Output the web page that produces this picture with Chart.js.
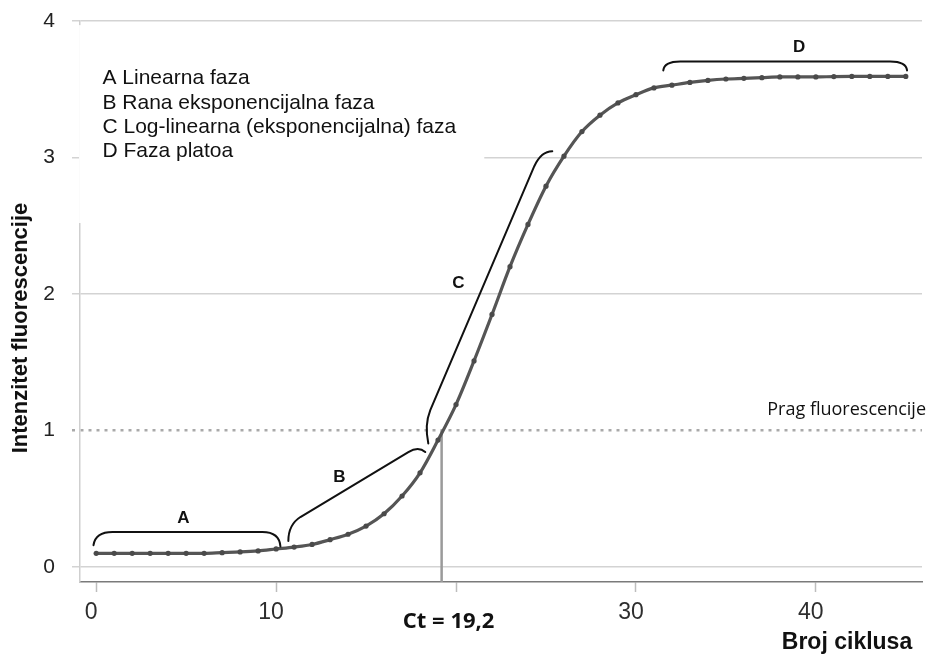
<!DOCTYPE html>
<html>
<head>
<meta charset="utf-8">
<title>qPCR krivulja</title>
<script src="https://cdn.jsdelivr.net/npm/chart.js@4.4.1/dist/chart.umd.min.js"></script>
<style>
  html, body { margin: 0; padding: 0; background: #fff; }
  #wrap { width: 927px; height: 655px; position: relative; }
</style>
</head>
<body>
<div id="wrap"><canvas id="qpcrChart"></canvas></div>
<script>
/* ---- Data ---- */
const cycles = [
  0, 1, 2, 3, 4, 5, 6, 7, 8, 9,
  10, 11, 12, 13, 14, 15, 16, 17, 18, 19,
  20, 21, 22, 23, 24, 25, 26, 27, 28, 29,
  30, 31, 32, 33, 34, 35, 36, 37, 38, 39,
  40, 41, 42, 43, 44, 45
];
const fluorescence = [
  0.10, 0.10, 0.10, 0.10, 0.10, 0.10, 0.10, 0.105, 0.11, 0.118,
  0.132, 0.146, 0.165, 0.20, 0.24, 0.30, 0.39, 0.52, 0.69, 0.93,
  1.19, 1.51, 1.85, 2.20, 2.51, 2.79, 3.01, 3.19, 3.31, 3.40,
  3.46, 3.51, 3.53, 3.55, 3.565, 3.575, 3.58, 3.585, 3.59, 3.59,
  3.59, 3.593, 3.594, 3.594, 3.594, 3.594
];
const yTicks = [0, 1, 2, 3, 4];
const xTicks = [0, 10, 20, 30, 40];
const hiddenXTick = 20;            // covered by the Ct label in the original
const thresholdValue = 1;
const ctValue = 19.2;
const ctLabel = "Ct = 19,2";
const thresholdLabel = "Prag fluorescencije";
const phaseLegend = [
  "A Linearna faza",
  "B Rana eksponencijalna faza",
  "C Log-linearna (eksponencijalna) faza",
  "D Faza platoa"
];
const phaseNames = ["A", "B", "C", "D"];
const xTitle = "Broj ciklusa";
const yTitle = "Intenzitet fluorescencije";


/* ---- Axis range ---- */
const X_MIN = -0.9, X_MAX = 45.9;
const Y_MIN = -0.11, Y_MAX = 4;

const SANS = "'Liberation Sans', Arial, sans-serif";
const HUMAN = "'Open Sans', 'Noto Sans', sans-serif";


/* ---- Annotation geometry (data units) ---- */
// each bracket: start, ctrl, corner end, straight end, ctrl, end
const bracketShapes = {
  A: [[-0.15, 0.16], [-0.04, 0.256], [0.91, 0.256], [9.24, 0.256], [10.18, 0.256], [10.24, 0.15]],
  B: [[10.68, 0.19], [10.68, 0.31], [11.35, 0.366], [17.35, 0.842], [17.91, 0.886], [18.29, 0.842]],
  C: [[18.46, 0.905], [18.24, 1.04], [18.57, 1.149], [24.35, 2.936], [24.74, 3.045], [25.35, 3.045]],
  D: [[31.52, 3.638], [31.57, 3.704], [32.46, 3.704], [44.13, 3.704], [45.02, 3.704], [45.07, 3.638]]
};
const bracketLabelPos = {
  A: [4.85, 0.36], B: [13.52, 0.66], C: [20.13, 2.08], D: [39.07, 3.81]
};
// white patch that hides grid behind the phase legend
const legendPatch = { x0: -0.95, x1: 21.57, y0: 2.52, y1: 3.97 };


/* ---- Plugin: patch, brackets, texts ---- */
const annotations = {
  id: "qpcrAnnotations",
  beforeDatasetsDraw(chart) {
    const { ctx, scales: { x, y } } = chart;
    const px0 = x.getPixelForValue(legendPatch.x0);
    const px1 = x.getPixelForValue(legendPatch.x1);
    const py0 = y.getPixelForValue(legendPatch.y1);
    const py1 = y.getPixelForValue(legendPatch.y0);
    ctx.save();
    ctx.fillStyle = "#fff";
    ctx.fillRect(px0, py0, px1 - px0, py1 - py0);
    ctx.restore();
  },
  afterDatasetsDraw(chart) {
    const { ctx, chartArea, scales: { x, y } } = chart;
    const P = ([vx, vy]) => [x.getPixelForValue(vx), y.getPixelForValue(vy)];

    ctx.save();

    // brackets
    ctx.strokeStyle = "#111";
    ctx.lineWidth = 2;
    ctx.lineCap = "round";
    phaseNames.forEach(n => {
      const p = bracketShapes[n].map(P);
      ctx.beginPath();
      ctx.moveTo(p[0][0], p[0][1]);
      ctx.quadraticCurveTo(p[1][0], p[1][1], p[2][0], p[2][1]);
      ctx.lineTo(p[3][0], p[3][1]);
      ctx.quadraticCurveTo(p[4][0], p[4][1], p[5][0], p[5][1]);
      ctx.stroke();
    });

    // bracket letters
    ctx.fillStyle = "#111";
    ctx.font = `bold 17px ${SANS}`;
    ctx.textAlign = "center";
    ctx.textBaseline = "middle";
    phaseNames.forEach(n => {
      const [lx, ly] = P(bracketLabelPos[n]);
      ctx.fillText(n, lx, ly);
    });

    // phase legend
    ctx.font = `21px ${SANS}`;
    ctx.textAlign = "left";
    const lx = x.getPixelForValue(0.35);
    const ly = y.getPixelForValue(3.58);
    phaseLegend.forEach((t, i) => ctx.fillText(t, lx, ly + i * 24.4));

    // threshold label
    ctx.font = `18px ${HUMAN}`;
    ctx.textAlign = "right";
    ctx.fillText(thresholdLabel, chartArea.right + 4, y.getPixelForValue(thresholdValue) - 21);

    // Ct label
    ctx.font = `bold 22px ${HUMAN}`;
    ctx.textAlign = "center";
    ctx.fillText(ctLabel, x.getPixelForValue(ctValue) + 7, chartArea.bottom + 40);

    // axis titles
    ctx.font = `bold 23px ${SANS}`;
    ctx.fillText(xTitle, 847, chartArea.bottom + 61);

    ctx.font = `bold 22px ${SANS}`;
    ctx.translate(21, 328);
    ctx.rotate(-Math.PI / 2);
    ctx.fillText(yTitle, 0, 0);

    ctx.restore();
  }
};


/* ---- Chart ---- */
function initQpcrChart() {
  const el = document.getElementById("qpcrChart");
  if (!el) return;

  const isThreshold = c => c.tick && c.tick.value === thresholdValue;

  new Chart(el, {
    type: "line",
    data: {
      datasets: [
        {
          label: "Fluorescencija",
          data: cycles.map((c, i) => ({ x: c, y: fluorescence[i] })),
          borderColor: "#555",
          borderWidth: 3.2,
          cubicInterpolationMode: "monotone",
          pointRadius: 2.6,
          pointBackgroundColor: "#4a4a4a",
          pointBorderWidth: 0
        },
        {
          label: "Ct",
          data: [{ x: ctValue, y: thresholdValue }, { x: ctValue, y: Y_MIN }],
          borderColor: "#9a9a9a",
          borderWidth: 2.5,
          pointRadius: 0
        }
      ]
    },
    options: {
      responsive: true,
      maintainAspectRatio: false,
      animation: false,
      layout: { padding: { top: 21, right: 5, left: 0, bottom: 0 } },
      plugins: {
        legend: { display: false },
        tooltip: { enabled: false }
      },
      scales: {
        x: {
          type: "linear",
          min: X_MIN,
          max: X_MAX,
          afterBuildTicks: s => { s.ticks = xTicks.map(v => ({ value: v })); },
          afterFit: s => { s.height = 73; },
          grid: {
            drawOnChartArea: false,
            drawTicks: true,
            tickLength: 10,
            tickColor: "#bdbdbd",
            tickWidth: 1.5
          },
          border: { display: true, color: "#7a7a7a", width: 1.5 },
          ticks: {
            color: "#2e2e2e",
            font: { family: SANS, size: 23 },
            padding: 7,
            labelOffset: -5,
            maxRotation: 0,
            callback: v => (v === hiddenXTick ? "" : v)
          }
        },
        y: {
          min: Y_MIN,
          max: Y_MAX,
          afterBuildTicks: s => { s.ticks = yTicks.map(v => ({ value: v })); },
          afterFit: s => {
            s.width = 80;
            s.paddingTop = 0;      // let layout.padding decide the top edge
            s.paddingBottom = 0;
          },
          grid: {
            color: c => (isThreshold(c) ? "#a9a9a9" : "#d3d3d3"),
            lineWidth: c => (isThreshold(c) ? 2.5 : 1.5),
            tickLength: 8,
            tickColor: c => (isThreshold(c) ? "#a9a9a9" : "#d3d3d3"),
            tickWidth: c => (isThreshold(c) ? 2.5 : 1.5),
            tickBorderDash: c => (isThreshold(c) ? [3, 5] : [])
          },
          border: {
            display: true,
            color: "#cfcfcf",
            width: 1.5,
            dash: c => (isThreshold(c) ? [3, 5] : [])
          },
          ticks: {
            color: "#222",
            font: { family: SANS, size: 21 },
            padding: 17
          }
        }
      }
    },
    plugins: [annotations]
  });
}

document.addEventListener("DOMContentLoaded", initQpcrChart);
</script>
</body>
</html>
